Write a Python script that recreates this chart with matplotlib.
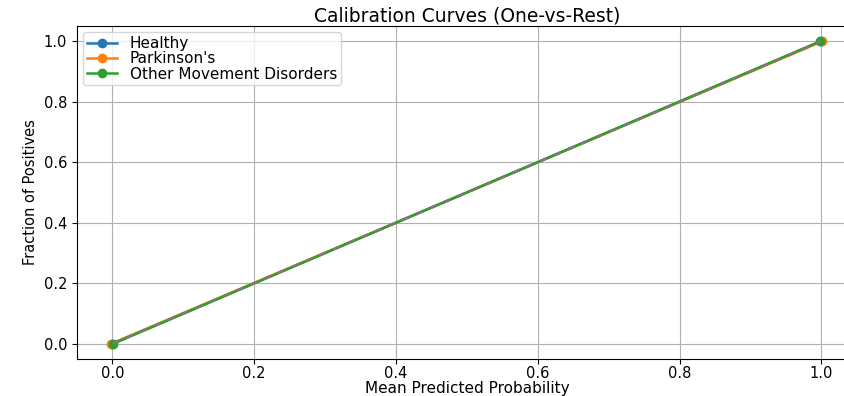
import numpy as np
import matplotlib
matplotlib.use("Agg")
import matplotlib.pyplot as plt

# calibration points (mean predicted prob, fraction of positives) per class
classes = ["Healthy", "Parkinson's", "Other Movement Disorders"]
colors = ["#1f77b4", "#ff7f0e", "#2ca02c"]
mean_pred = [
    [0.0, 1.0],
    [-0.0015, 1.0015],
    [0.0015, 0.9985],
]
frac_pos = [
    [0.0, 1.0],
    [0.0, 1.0],
    [0.0, 1.0],
]
perfect = [0.0, 1.0]

fig = plt.figure(figsize=(8.45, 3.96), dpi=100)
ax = fig.add_axes([0.091, 0.094, 0.923, 0.840])

for name, c, xm, yf in zip(classes, colors, mean_pred, frac_pos):
    ax.plot(xm, yf, marker='o', color=c, lw=1.8, markersize=6, label=name)
# perfectly calibrated reference
ax.plot(perfect, perfect, ls='--', color='#7a7a7a', lw=1.8, dashes=(3, 3))

ax.set_xlim(-0.05, 1.05)
ax.set_ylim(-0.05, 1.05)
ax.set_xticks([0.0, 0.2, 0.4, 0.6, 0.8, 1.0])
ax.set_yticks([0.0, 0.2, 0.4, 0.6, 0.8, 1.0])
ax.tick_params(axis='x', labelsize=10.5, pad=1.5)
ax.tick_params(axis='y', labelsize=10.5)
ax.grid(True)
ax.set_title('Calibration Curves (One-vs-Rest)', fontsize=13.5, pad=3)
ax.set_xlabel('Mean Predicted Probability', fontsize=11, labelpad=0)
ax.set_ylabel('Fraction of Positives', fontsize=10.5, family='Liberation Sans Narrow')
ax.legend(loc='upper left', fontsize=11, borderaxespad=0.4,
          handlelength=2, labelspacing=0.02, borderpad=0.25)

fig.savefig('out.png', dpi=100)
